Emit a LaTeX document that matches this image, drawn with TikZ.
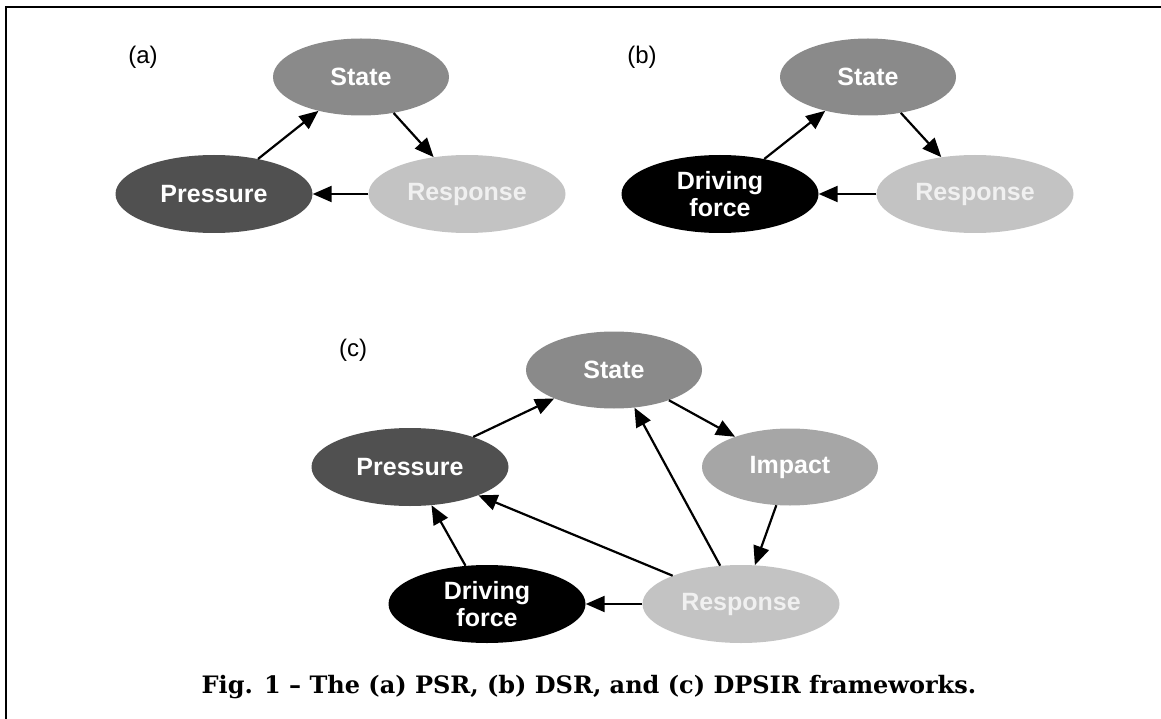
\documentclass[tikz,border=0pt]{standalone}
\usepackage{fontspec}
\setmainfont{Liberation Sans}
\newfontfamily\capfont{DejaVu Serif}
\usetikzlibrary{shapes.geometric,arrows.meta}

\definecolor{stategray}{HTML}{8A8A8A}
\definecolor{pressgray}{HTML}{505050}
\definecolor{respgray}{HTML}{C3C3C3}
\definecolor{impgray}{HTML}{A6A6A6}
\definecolor{resptext}{HTML}{F0F0F0}

\tikzset{
  blob/.style={ellipse, draw=none, inner sep=0pt, text=white, align=center,
    font=\fontsize{25}{27}\selectfont\bfseries},
  widebox/.style={blob, minimum width=197pt, minimum height=78pt},
  narrowbox/.style={blob, minimum width=176pt, minimum height=77pt},
  statenode/.style={narrowbox, fill=stategray},
  pressnode/.style={widebox, fill=pressgray},
  respnode/.style={widebox, fill=respgray, text=resptext},
  impnode/.style={narrowbox, fill=impgray},
  drivenode/.style={widebox, fill=black},
  arr/.style={-{Triangle[length=19pt,width=16pt]}, line width=2.2pt},
  panel/.style={font=\fontsize{24}{26}\selectfont},
}

\begin{document}
\begin{tikzpicture}[x=1pt,y=-1pt]
\useasboundingbox (0,0) rectangle (1161,719);

% frame
\draw[line width=2.5pt] (1161,7) -- (6,7) -- (6,719);

% (a) PSR
\node[panel] (la) at (143,57) {(a)};
\node[statenode] (aS) at (361,77) {State};
\node[pressnode] (aP) at (214,194) {Pressure};
\node[respnode]  (aR) at (467,194) {Response};
\draw[arr] (aP) -- (aS);
\draw[arr] (aS) -- (aR);
\draw[arr] (aR) -- (aP);

% (b) DSR
\node[panel] (lb) at (642,57) {(b)};
\node[statenode] (bS) at (868,77) {State};
\node[drivenode] (bD) at (720,194) {Driving\\force};
\node[respnode]  (bR) at (975,194) {Response};
\draw[arr] (bD) -- (bS);
\draw[arr] (bS) -- (bR);
\draw[arr] (bR) -- (bD);

% (c) DPSIR
\node[panel] (lc) at (353,350) {(c)};
\node[statenode] (cS) at (614,370) {State};
\node[pressnode] (cP) at (410,467) {Pressure};
\node[impnode]   (cI) at (790,467) {Impact};
\node[drivenode] (cD) at (487,604) {Driving\\force};
\node[respnode]  (cR) at (741,604) {Response};
\draw[arr] (cP) -- (cS);
\draw[arr] (cS) -- (cI);
\draw[arr] (cI) -- (cR);
\draw[arr] (cR) -- (cS);
\draw[arr] (cR) -- (cP);
\draw[arr] (cR) -- (cD);
\draw[arr] (cD) -- (cP);

% caption
\node[font=\fontsize{24}{28}\selectfont\capfont\bfseries] (cap) at (589,687)
  {Fig. 1 – The (a) PSR, (b) DSR, and (c) DPSIR frameworks.};
\end{tikzpicture}
\end{document}
